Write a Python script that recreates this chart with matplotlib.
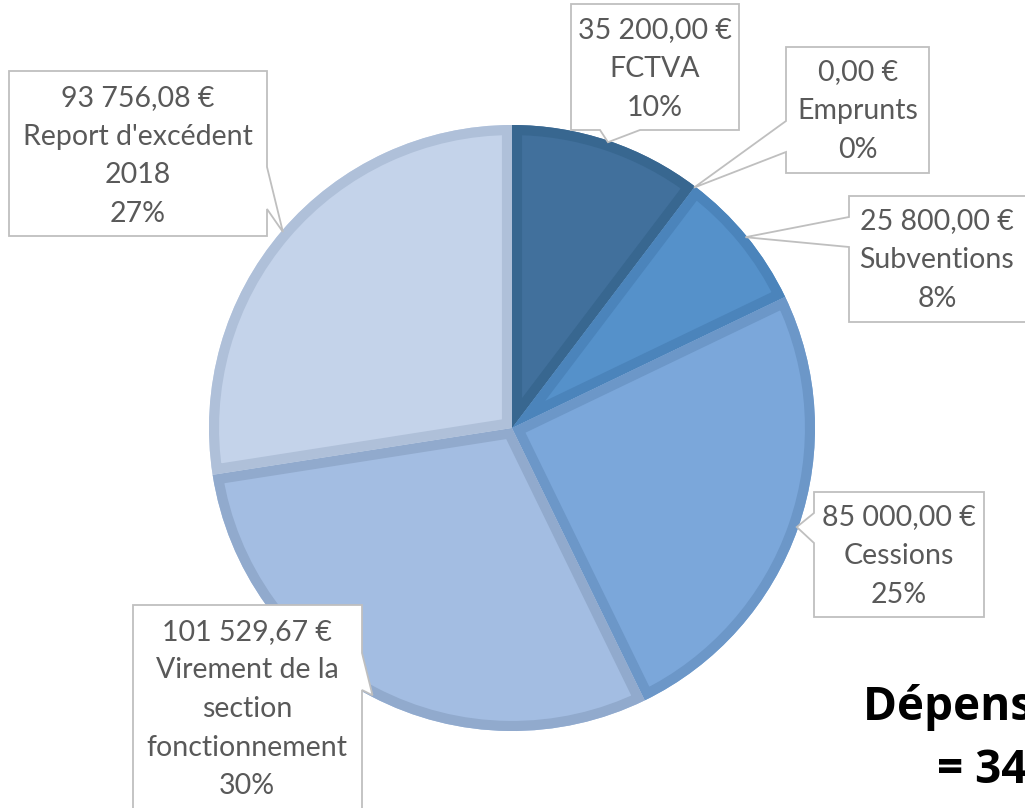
import numpy as np
import matplotlib
matplotlib.use("Agg")
import matplotlib.pyplot as plt
from matplotlib.patches import Polygon, PathPatch

# données
postes   = ["FCTVA", "Emprunts", "Subventions", "Cessions",
            "Virement de la\nsection\nfonctionnement", "Report d'excédent\n2018"]
montants = [35200.00, 0.00, 25800.00, 85000.00, 101529.67, 93756.08]
couleurs = ["#41709c", "#5591ca", "#5591ca", "#7ba7da", "#a3bde2", "#c4d3ea"]
bords    = ["#386790", "#4b84bb", "#4b84bb", "#6c97c8", "#91aacd", "#afc0d9"]
titre    = ["Dépenses d'investissement", "= 341 285,75 €"]

# mise en page des étiquettes (pixels, y vers le bas)
# boite (x0, y0, x1, y1), coté de la pointe, base de la pointe, centre du texte
etiq = [
    ((571, 4, 739, 130), "bottom", (600, 640), (655, 69)),
    ((786, 47, 929, 173), "left", (121, 152), (858, 111)),
    ((849, 196, 1045, 322), "left", (217, 247), (937, 260)),
    ((814, 492, 984, 617), "left", (513, 543), (899, 556)),
    ((133, 605, 362, 840), "right", (653, 690), (247, 709)),
    ((9, 71, 267, 236), "right", (167, 209), (138, 156)),
]

W, H = 1025, 808
CX, CY, R = 512, 428, 303


def fr(v):
    s = "{:,.2f}".format(v).replace(",", " ").replace(".", ",")
    return s + " €"


def callout(box, side, base, tip):
    x0, y0, x1, y1 = box
    b0, b1 = base
    if side == "bottom":
        pts = [(x0, y0), (x1, y0), (x1, y1), (b1, y1), tip, (b0, y1), (x0, y1)]
    elif side == "left":
        pts = [(x0, y0), (x1, y0), (x1, y1), (x0, y1), (x0, b1), tip, (x0, b0)]
    else:
        pts = [(x0, y0), (x1, y0), (x1, b0), tip, (x1, b1), (x1, y1), (x0, y1)]
    return [(x, H - y) for x, y in pts]


fig = plt.figure(figsize=(10.25, 8.08), dpi=100, facecolor="white")
ax = fig.add_axes([0, 0, 1, 1])

wedges, _ = ax.pie(montants, colors=couleurs, startangle=90, counterclock=False,
                   center=(CX, H - CY), radius=R, frame=True,
                   wedgeprops=dict(linewidth=0, edgecolor="none"))
ax.set_xlim(0, W)
ax.set_ylim(0, H)
ax.set_aspect("equal")
ax.axis("off")

# bordure intérieure : trait large découpé par le secteur lui-même
for w, b in zip(wedges, bords):
    if w.theta2 - w.theta1 <= 0:
        continue
    contour = PathPatch(w.get_path(), facecolor="none", edgecolor=b,
                        linewidth=14.5, transform=ax.transData, zorder=2)
    ax.add_patch(contour)
    contour.set_clip_path(w.get_path(), ax.transData)

total = sum(montants)
for w, nom, v, (box, side, base, ctr) in zip(wedges, postes, montants, etiq):
    a = np.deg2rad((w.theta1 + w.theta2) / 2)
    tip = (CX + 0.995 * R * np.cos(a), CY - 0.995 * R * np.sin(a))
    poly = Polygon(callout(box, side, base, tip), closed=True, facecolor="white",
                   edgecolor="#bfbfbf", linewidth=1.3, zorder=5)
    ax.add_patch(poly)
    txt = "{}\n{}\n{:.0f}%".format(fr(v), nom, 100 * v / total)
    ax.text(ctr[0], H - ctr[1], txt, ha="center", va="center", fontsize=20.5,
            family="Lato", color="#595959", linespacing=1.6, zorder=6)

ax.text(863, H - 720, titre[0], ha="left", va="baseline", fontsize=33,
        family="Open Sans", fontweight="bold", color="black")
ax.text(937, H - 783, titre[1], ha="left", va="baseline", fontsize=33,
        family="Open Sans", fontweight="bold", color="black")

fig.savefig("out.png", dpi=100, facecolor="white")
